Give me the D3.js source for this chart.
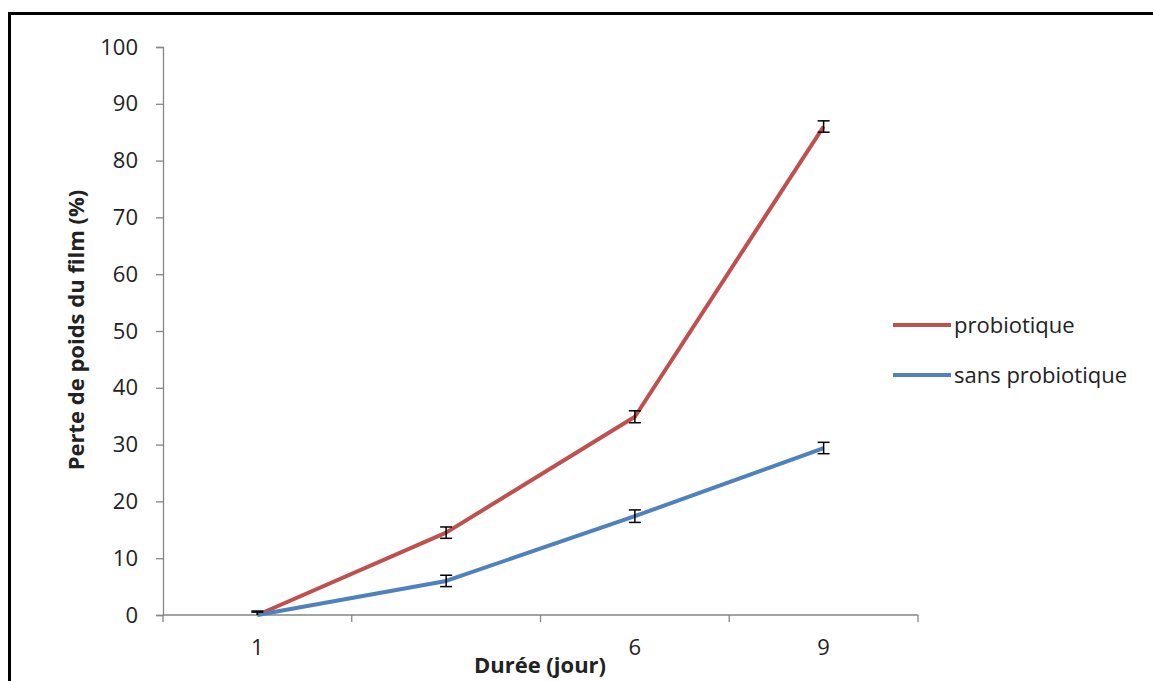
<!DOCTYPE html>
<html>
<head>
<meta charset="utf-8">
<script src="https://cdn.jsdelivr.net/npm/d3@7"></script>
<style>
  body { margin: 0; background: #fff; }
  svg text { font-family: "Open Sans", sans-serif; fill: #222; }
</style>
</head>
<body>
<svg id="chart" width="1153" height="681"></svg>
<script>
// data
const days = ['1', '3', '6', '9'];
const dayLabels = ['1', '', '6', '9'];
const probiotique = [0, 14.5, 34.9, 86.0];
const probiotiqueErr = [0.7, 1.0, 1.05, 1.0];
const sansProbiotique = [0, 6.0, 17.4, 29.4];
const sansProbiotiqueErr = [0.5, 1.0, 1.1, 1.0];
const yTicks = [0, 10, 20, 30, 40, 50, 60, 70, 80, 90, 100];

const series = [
  { name: 'probiotique', values: probiotique, err: probiotiqueErr, color: '#c0504d' },
  { name: 'sans probiotique', values: sansProbiotique, err: sansProbiotiqueErr, color: '#4f81bd' }
];

const svg = d3.select('#chart');

// outer frame (runs off the right and bottom edges)
svg.append('rect')
  .attr('x', 9.5).attr('y', 13.5)
  .attr('width', 1200).attr('height', 720)
  .attr('fill', 'none')
  .attr('stroke', '#000')
  .attr('stroke-width', 3);

const plot = { left: 163, right: 918, top: 47, bottom: 615 };

const x = d3.scaleBand()
  .domain(days)
  .range([plot.left, plot.right]);

const y = d3.scaleLinear()
  .domain([0, 100])
  .range([plot.bottom, plot.top]);

// y axis
const yAxis = svg.append('g')
  .attr('transform', `translate(${plot.left},0)`)
  .call(d3.axisLeft(y).tickValues(yTicks).tickSize(7).tickPadding(18));
yAxis.select('.domain').attr('stroke', '#868686').attr('stroke-width', 1.3);
yAxis.selectAll('.tick line').attr('stroke', '#868686').attr('stroke-width', 1.3);
yAxis.selectAll('.tick text')
  .style('font-size', '22px')
  .style('font-family', '"Open Sans", sans-serif')
  .attr('fill', '#222');

// x axis: labels centred in bands, ticks on band boundaries
const xAxis = svg.append('g')
  .attr('transform', `translate(0,${plot.bottom})`)
  .call(d3.axisBottom(x).tickSize(0).tickPadding(24)
    .tickFormat((d, i) => dayLabels[i]));
xAxis.select('.domain').remove();
xAxis.selectAll('.tick text')
  .style('font-size', '22px')
  .style('font-family', '"Open Sans", sans-serif')
  .attr('fill', '#222');

svg.append('line')
  .attr('x1', plot.left).attr('x2', plot.right)
  .attr('y1', plot.bottom).attr('y2', plot.bottom)
  .attr('stroke', '#868686').attr('stroke-width', 1.3);

const bounds = days.map(d => x(d)).concat([x.range()[1]]);
svg.append('g').selectAll('line')
  .data(bounds)
  .join('line')
  .attr('x1', d => d).attr('x2', d => d)
  .attr('y1', plot.bottom).attr('y2', plot.bottom + 7)
  .attr('stroke', '#868686').attr('stroke-width', 1.3);

// axis titles
svg.append('text')
  .attr('transform', 'translate(84,330) rotate(-90)')
  .attr('text-anchor', 'middle')
  .style('font-size', '22px')
  .style('font-weight', 'bold')
  .text('Perte de poids du film (%)');

svg.append('text')
  .attr('x', 540).attr('y', 673)
  .attr('text-anchor', 'middle')
  .style('font-size', '22px')
  .style('font-weight', 'bold')
  .text('Durée (jour)');

// lines
const cx = d => x(d) + x.bandwidth() / 2;
const line = d3.line()
  .x((v, i) => cx(days[i]))
  .y(v => y(v));

svg.append('g').selectAll('path')
  .data(series)
  .join('path')
  .attr('d', s => line(s.values))
  .attr('fill', 'none')
  .attr('stroke', s => s.color)
  .attr('stroke-width', 4)
  .attr('stroke-linejoin', 'round');

// error bars
const capHalf = 6;
series.forEach(s => {
  const g = svg.append('g');
  s.values.forEach((v, i) => {
    const px = cx(days[i]);
    const lo = Math.max(0, v - s.err[i]);
    const hi = v + s.err[i];
    g.append('line')
      .attr('x1', px).attr('x2', px)
      .attr('y1', y(lo)).attr('y2', y(hi))
      .attr('stroke', '#000').attr('stroke-width', 1.5);
    g.append('line')
      .attr('x1', px - capHalf).attr('x2', px + capHalf)
      .attr('y1', y(hi)).attr('y2', y(hi))
      .attr('stroke', '#000').attr('stroke-width', 1.5);
    if (v - s.err[i] >= 0) {
      g.append('line')
        .attr('x1', px - capHalf).attr('x2', px + capHalf)
        .attr('y1', y(lo)).attr('y2', y(lo))
        .attr('stroke', '#000').attr('stroke-width', 1.5);
    }
  });
});

// legend
const legend = svg.append('g')
  .selectAll('g')
  .data(series)
  .join('g')
  .attr('transform', (s, i) => `translate(893,${325 + i * 50})`);
legend.append('line')
  .attr('x1', 0).attr('x2', 58)
  .attr('y1', 0).attr('y2', 0)
  .attr('stroke', s => s.color)
  .attr('stroke-width', 4);
legend.append('text')
  .attr('x', 61).attr('y', 8)
  .style('font-size', '22px')
  .text(s => s.name);
</script>
</body>
</html>
